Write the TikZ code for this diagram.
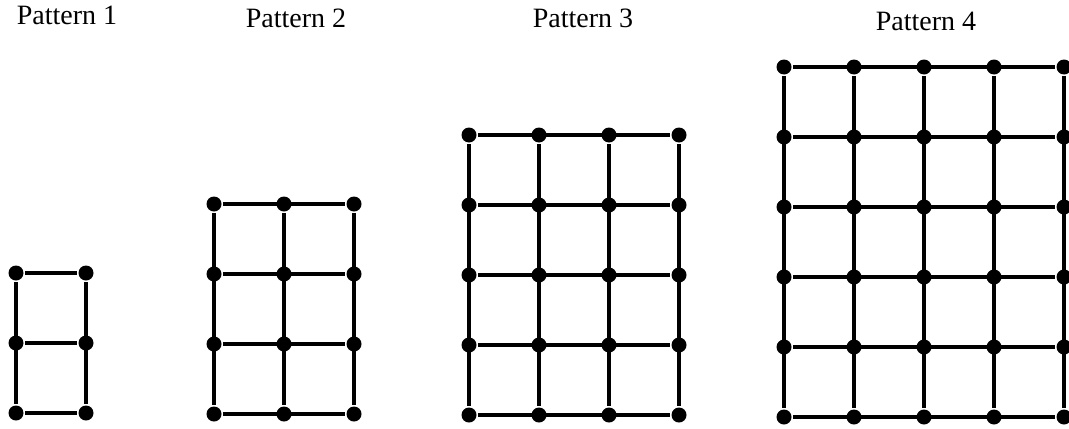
\documentclass[tikz,border=0pt]{standalone}
\usepackage{fontspec}
\setmainfont{Liberation Serif}
\begin{document}
\begin{tikzpicture}[x=0.5pt, y=-0.5pt, line width=1.8pt, every node/.style={font=\fontsize{14}{16}\selectfont},
  dot/.style={circle, fill, inner sep=0pt, minimum size=7.5pt}]

\useasboundingbox (0,0) rectangle (1069,428);

\foreach \n/\x/\y/\lx/\ly in {1/16/413/67/25, 2/214/414/296/27, 3/469/415/583/27, 4/784/417/926/30} {
  \pgfmathtruncatemacro\rows{\n+1}
  \node[anchor=base] (title\n) at (\lx,\ly) {Pattern \n};
  \foreach \i in {0,...,\n}
    \foreach \j in {0,...,\rows}
      \node[dot] (p\n-\i-\j) at ({\x+70*\i},{\y-70*\j}) {};
  \foreach \i in {0,...,\n}
    \draw (p\n-\i-0) -- (p\n-\i-\rows);
  \foreach \j in {0,...,\rows}
    \draw (p\n-0-\j) -- (p\n-\n-\j);
}

\end{tikzpicture}
\end{document}
